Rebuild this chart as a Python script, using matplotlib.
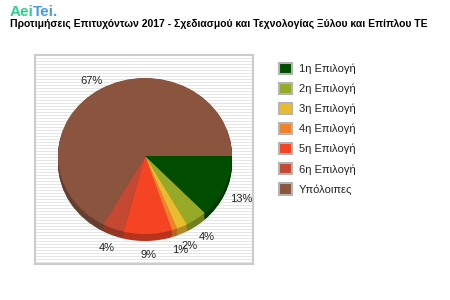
import numpy as np
import matplotlib
matplotlib.use("Agg")
import matplotlib.pyplot as plt
from matplotlib.patches import Patch
import matplotlib.colors as mcolors

plt.rcParams['font.family'] = ['Liberation Sans', 'DejaVu Sans']

categories = ["1η Επιλογή", "2η Επιλογή", "3η Επιλογή", "4η Επιλογή",
              "5η Επιλογή", "6η Επιλογή", "Υπόλοιπες"]
values = [13, 4, 2, 1, 9, 4, 67]
pct_labels = ["13%", "4%", "2%", "1%", "9%", "4%", "67%"]
colors = ["#004d00", "#96aa28", "#e8bb30", "#f08228", "#f44424", "#c44832", "#8a543e"]
title = "Προτιμήσεις Επιτυχόντων 2017 - Σχεδιασμού και Τεχνολογίας Ξύλου και Επίπλου ΤΕ"

W, H = 450, 300
fig = plt.figure(figsize=(W / 100, H / 100), dpi=100)
fig.patch.set_facecolor("white")

def px_axes(x0, y0, x1, y1, **kw):
    return fig.add_axes([x0 / W, (H - y1) / H, (x1 - x0) / W, (y1 - y0) / H], **kw)

# striped plot box
box = px_axes(35, 55, 253, 264)
stripes = np.array([[1.0] if (i % 3 == 0) else [0.0] for i in range(209)])
cmap = mcolors.ListedColormap(["#ffffff", "#e6e6e6"])
box.imshow(stripes, aspect="auto", cmap=cmap, interpolation="nearest",
           extent=[0, 1, 0, 1], origin="upper")
box.set_xticks([]); box.set_yticks([])
for s in box.spines.values():
    s.set_color("#cccccc"); s.set_linewidth(1.5)

# pie axes (ellipse: rx=87px, ry=78px)
cx, cy, rx, ry = 145, 156, 87, 78
ext = 1.1
ax = px_axes(cx - rx * ext, cy - ry * ext, cx + rx * ext, cy + ry * ext)
ax.patch.set_alpha(0)

def darker(c, f=0.75):
    r, g, b = mcolors.to_rgb(c)
    return (r * f, g * f, b * f)

dark = [darker(c) for c in colors]
depth = 7 / ry
for off in np.linspace(depth, 0.005, 9):
    ax.pie(values, colors=dark, startangle=0, counterclock=False,
           center=(0, -off), radius=1.0, wedgeprops=dict(linewidth=0))
wedges, texts = ax.pie(values, colors=colors, startangle=0, counterclock=False,
                       center=(0, 0), radius=1.0, wedgeprops=dict(linewidth=0))
# percentage labels (centred on their anchor points)
_, lab_texts = ax.pie(values, colors=["none"] * len(values), startangle=0,
                      counterclock=False, center=(0, -0.07), radius=1.0,
                      labels=pct_labels, labeldistance=1.2,
                      wedgeprops=dict(linewidth=0),
                      textprops=dict(fontsize=8, color="#222222"))
for t in lab_texts:
    t.set_ha("center")
    t.set_va("center")
ax.set_aspect("auto")
ax.set_xlim(-ext, ext)
ax.set_ylim(-ext, ext)
ax.axis("off")

# legend
handles = [Patch(facecolor=c, edgecolor="#b4b4b4", linewidth=1.5) for c in colors]
fig.legend(handles, categories, loc="upper left", bbox_to_anchor=(273 / W, 1 - 57 / H),
           frameon=False, fontsize=8, handlelength=1.2, handleheight=1.2,
           labelspacing=0.78, handletextpad=0.6, borderpad=0, labelcolor="#222222")

# logo and title
fig.text(10 / W, 1 - 15.5 / H, "Aei", fontsize=11, fontweight="bold", color="#2fd08c",
         va="baseline", ha="left")
fig.text(33 / W, 1 - 15.5 / H, "Tei.", fontsize=11, fontweight="bold", color="#4a9ae6",
         va="baseline", ha="left")
fig.text(10 / W, 1 - 27 / H, title, fontsize=7.5, fontweight="bold", color="black",
         va="baseline", ha="left")

fig.savefig("out.png", dpi=100)
